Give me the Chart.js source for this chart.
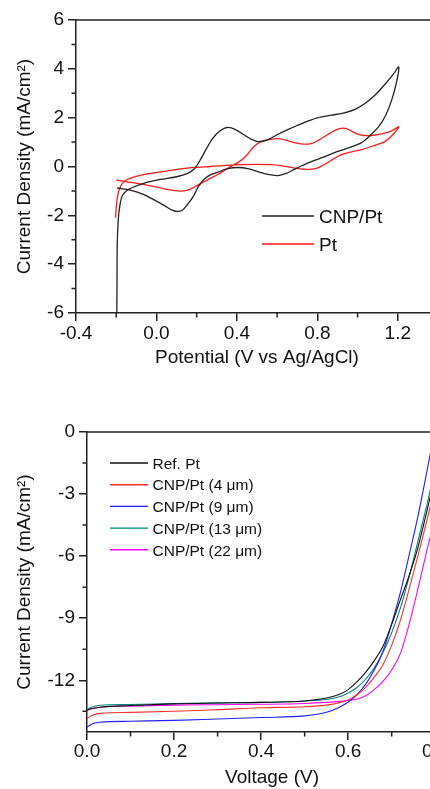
<!DOCTYPE html>
<html>
<head>
<meta charset="utf-8">
<script src="https://cdn.jsdelivr.net/npm/chart.js@4.4.1/dist/chart.umd.min.js"></script>
<style>
  html, body { margin: 0; padding: 0; background: #fff; overflow: hidden; width: 430px; height: 789px; }
  canvas { position: absolute; left: 0; }
  #cv-chart { top: 0; }
  #jv-chart { top: 395px; }
</style>
</head>
<body>
<canvas id="cv-chart" width="450" height="395"></canvas>
<canvas id="jv-chart" width="470" height="394"></canvas>
<script>
// ── Data: cyclic voltammetry (top) ───────────────────────────────────────────
const CV_LABELS = ['CNP/Pt', 'Pt'];

const CNP_V = [-0.197, -0.196, -0.195, -0.190, -0.182, -0.170, -0.150, -0.120, -0.060, 0.020, 0.100, 0.155,
  0.190, 0.220, 0.250, 0.280, 0.315, 0.355, 0.395, 0.435, 0.470, 0.505, 0.550, 0.600, 0.650, 0.700, 0.760,
  0.805, 0.870, 0.935, 0.990, 1.040, 1.090, 1.140, 1.180, 1.205,
  1.195, 1.170, 1.140, 1.105, 1.060, 1.020, 0.950, 0.885, 0.830, 0.770, 0.720, 0.685, 0.645, 0.605, 0.560,
  0.520, 0.460, 0.405, 0.350, 0.300, 0.270, 0.240, 0.210, 0.185, 0.155, 0.130, 0.105, 0.075, 0.040, 0.000,
  -0.065, -0.130, -0.195];
const CNP_J = [-6.0, -4.5, -3.2, -2.2, -1.6, -1.2, -1.0, -0.86, -0.68, -0.53, -0.42, -0.28,
  -0.08, 0.3, 0.75, 1.15, 1.45, 1.6, 1.5, 1.3, 1.12, 1.02, 1.08, 1.3, 1.5, 1.68, 1.88,
  2.0, 2.1, 2.2, 2.35, 2.6, 2.95, 3.4, 3.8, 4.08,
  3.5, 2.73, 2.1, 1.63, 1.25, 0.98, 0.75, 0.57, 0.38, 0.2, 0.02, -0.12, -0.28, -0.37, -0.33,
  -0.25, -0.1, -0.04, -0.1, -0.25, -0.33, -0.5, -0.8, -1.2, -1.55, -1.78, -1.84, -1.78, -1.6, -1.42,
  -1.14, -0.97, -0.88];

const PT_V = [-0.200, -0.165, -0.130, -0.065, 0.020, 0.105, 0.150, 0.185, 0.220, 0.260, 0.305, 0.355,
  0.405, 0.445, 0.485, 0.520, 0.560, 0.605, 0.645, 0.685, 0.730, 0.770, 0.800, 0.835, 0.870, 0.910,
  0.940, 0.970, 1.000, 1.035, 1.080, 1.135, 1.175, 1.205,
  1.175, 1.135, 1.080, 1.020, 0.970, 0.920, 0.875, 0.835, 0.795, 0.755, 0.715, 0.670, 0.620, 0.570,
  0.500, 0.435, 0.350, 0.270, 0.190, 0.105, 0.020, -0.065, -0.110, -0.145, -0.170, -0.185, -0.195,
  -0.200, -0.203];
const PT_J = [-0.55, -0.6, -0.65, -0.73, -0.88, -1.0, -0.98, -0.86, -0.7, -0.52, -0.33, -0.07,
  0.16, 0.42, 0.82, 1.02, 1.1, 1.14, 1.08, 0.98, 0.92, 0.94, 1.05, 1.22, 1.4, 1.55,
  1.56, 1.45, 1.33, 1.27, 1.28, 1.37, 1.48, 1.63,
  1.3, 1.02, 0.85, 0.69, 0.6, 0.49, 0.28, 0.08, -0.08, -0.12, -0.1, -0.04, 0.04, 0.08,
  0.09, 0.08, 0.05, 0.0, -0.04, -0.12, -0.22, -0.33, -0.42, -0.53, -0.7, -0.95, -1.3,
  -1.7, -2.1];

const CV_X_TICKS = [-0.4, 0.0, 0.4, 0.8, 1.2];
const CV_X_MINOR = [-0.2, 0.2, 0.6, 1.0];
const CV_Y_TICKS = [-6, -4, -2, 0, 2, 4, 6];
const CV_Y_MINOR = [-5, -3, -1, 1, 3, 5];

// ── Data: J–V curves (bottom) ────────────────────────────────────────────────
const JV_LABELS = ['Ref. Pt', 'CNP/Pt (4 μm)', 'CNP/Pt (9 μm)', 'CNP/Pt (13 μm)', 'CNP/Pt (22 μm)'];
const VOLTAGE = [0, 0.01, 0.03, 0.1, 0.2, 0.3, 0.4, 0.5, 0.55, 0.58, 0.6, 0.62, 0.64, 0.66, 0.68,
  0.7, 0.72, 0.74, 0.76, 0.78, 0.8, 0.82];
const J_REF = [-13.45, -13.38, -13.3, -13.22, -13.14, -13.1, -13.07, -13.0, -12.86, -12.68, -12.45,
  -12.08, -11.62, -11.05, -10.35, -9.3, -8.1, -6.95, -5.6, -3.9, -2.1, -0.3];
const J_4UM = [-13.84, -13.72, -13.6, -13.55, -13.5, -13.42, -13.33, -13.28, -13.2, -13.08, -12.95,
  -12.7, -12.35, -11.85, -11.25, -10.3, -9.1, -7.6, -6.0, -4.35, -2.6, -0.9];
const J_9UM = [-14.27, -14.12, -14.03, -13.98, -13.94, -13.87, -13.8, -13.72, -13.55, -13.3, -13.05,
  -12.7, -12.2, -11.5, -10.6, -9.25, -7.75, -5.95, -4.1, -2.0, 0.2, 2.2];
const J_13UM = [-13.42, -13.3, -13.21, -13.17, -13.12, -13.09, -13.07, -13.0, -12.93, -12.8, -12.62,
  -12.35, -11.95, -11.4, -10.65, -9.7, -8.5, -7.0, -5.3, -3.6, -1.8, 0.0];
const J_22UM = [-13.45, -13.38, -13.3, -13.25, -13.2, -13.18, -13.16, -13.12, -13.07, -13.02, -12.98,
  -12.92, -12.75, -12.45, -12.05, -11.5, -10.7, -9.3, -7.6, -5.8, -4.1, -2.2];

const JV_X_TICKS = [0.0, 0.2, 0.4, 0.6, 0.8];
const JV_X_MINOR = [0.1, 0.3, 0.5, 0.7];
const JV_Y_TICKS = [0, -3, -6, -9, -12];
const JV_Y_MINOR = [-1.5, -4.5, -7.5, -10.5, -13.5];

// ── Style ────────────────────────────────────────────────────────────────────
const FONT = "'Liberation Sans', Arial, sans-serif";
const INK  = '#111';
const AXIS = '#222';
const CV_COLORS = ['#222222', '#ff1a1a'];
const JV_COLORS = ['#111111', '#ff3030', '#2020ff', '#00877d', '#ff00ff'];

function pts(xs, ys) { return xs.map((x, i) => ({ x, y: ys[i] })); }

function axis(o) {
  return {
    type: 'linear',
    min: o.min, max: o.max,
    afterBuildTicks: s => { s.ticks = o.ticks.map(v => ({ value: v })); },
    afterFit: s => { if (s.isHorizontal()) s.height = o.size; else s.width = o.size; },
    border: { display: true, color: AXIS, width: 1.5 },
    grid: { drawOnChartArea: false, color: AXIS, lineWidth: 1.5, tickLength: 8 },
    ticks: {
      color: INK, font: { family: FONT, size: o.font }, padding: o.pad,
      autoSkip: false, maxRotation: 0, callback: o.fmt,
    },
    title: { display: true, text: o.title, color: INK, font: { family: FONT, size: o.font }, padding: o.titlePad },
  };
}

// ── Frame, minor ticks and legend ────────────────────────────────────────────
const frame = {
  id: 'frame',
  afterDraw(chart, args, opts) {
    const { ctx, chartArea: a, scales: { x, y } } = chart;
    ctx.save();
    ctx.strokeStyle = AXIS;
    ctx.lineWidth = 1.5;
    ctx.beginPath();
    ctx.moveTo(a.left, a.top); ctx.lineTo(a.right, a.top); ctx.lineTo(a.right, a.bottom);
    opts.xMinor.forEach(v => {
      const p = x.getPixelForValue(v);
      ctx.moveTo(p, a.bottom); ctx.lineTo(p, a.bottom + 4.5);
    });
    opts.yMinor.forEach(v => {
      const p = y.getPixelForValue(v);
      ctx.moveTo(a.left, p); ctx.lineTo(a.left - 4.5, p);
    });
    ctx.stroke();

    const L = opts.legend;
    ctx.font = L.size + 'px ' + FONT;
    ctx.textBaseline = 'middle';
    ctx.textAlign = 'left';
    chart.data.datasets.forEach((ds, i) => {
      const yy = L.y + i * L.dy;
      ctx.strokeStyle = ds.borderColor;
      ctx.lineWidth = 1.4;
      ctx.beginPath(); ctx.moveTo(L.x, yy); ctx.lineTo(L.x + L.len, yy); ctx.stroke();
      ctx.fillStyle = INK;
      ctx.fillText(ds.label, L.x + L.len + L.gap, yy + 1.5);
    });
    ctx.restore();
  },
};

const common = {
  responsive: false,
  animation: false,
  events: [],
  plugins: { legend: { display: false }, tooltip: { enabled: false } },
};

// ── Top chart: CV ────────────────────────────────────────────────────────────
new Chart(document.getElementById('cv-chart'), {
  type: 'line',
  data: {
    datasets: [
      { label: CV_LABELS[0], data: pts(CNP_V, CNP_J) },
      { label: CV_LABELS[1], data: pts(PT_V, PT_J) },
    ].map((d, i) => ({ ...d, borderColor: CV_COLORS[i], borderWidth: 1.3, pointRadius: 0, tension: 0.3 })),
  },
  options: {
    ...common,
    layout: { padding: { left: 0, top: 20, right: 12, bottom: 0 } },
    scales: {
      x: axis({ min: -0.4, max: 1.4, ticks: CV_X_TICKS, size: 82, font: 19, pad: 1,
        fmt: v => v.toFixed(1), title: 'Potential (V vs Ag/AgCl)', titlePad: { top: 0, bottom: 25.6 } }),
      y: axis({ min: -6, max: 6, ticks: CV_Y_TICKS, size: 76, font: 19, pad: 4,
        fmt: v => String(v), title: 'Current Density (mA/cm²)', titlePad: { top: 13.6, bottom: 0 } }),
    },
    plugins: {
      ...common.plugins,
      frame: { xMinor: CV_X_MINOR, yMinor: CV_Y_MINOR,
        legend: { x: 262, y: 216, dy: 28, len: 52, gap: 5, size: 19 } },
    },
  },
  plugins: [frame],
});

// ── Bottom chart: J–V ────────────────────────────────────────────────────────
const JV_SERIES = [J_REF, J_4UM, J_9UM, J_13UM, J_22UM];

new Chart(document.getElementById('jv-chart'), {
  type: 'line',
  data: {
    datasets: JV_SERIES.map((j, i) => ({
      label: JV_LABELS[i],
      data: pts(VOLTAGE, j),
      borderColor: JV_COLORS[i],
      borderWidth: 1.1,
      pointRadius: 0,
      cubicInterpolationMode: 'monotone',
    })),
  },
  options: {
    ...common,
    layout: { padding: { left: 0, top: 37, right: 13, bottom: 0 } },
    scales: {
      x: axis({ min: 0, max: 0.85, ticks: JV_X_TICKS, size: 57, font: 19, pad: 0,
        fmt: v => v.toFixed(1), title: 'Voltage (V)', titlePad: { top: 0, bottom: 0 } }),
      y: axis({ min: -14.5, max: 0, ticks: JV_Y_TICKS, size: 87, font: 19, pad: 4,
        fmt: v => String(v), title: 'Current Density (mA/cm²)', titlePad: { top: 13.6, bottom: 0 } }),
    },
    plugins: {
      ...common.plugins,
      frame: { xMinor: JV_X_MINOR, yMinor: JV_Y_MINOR,
        legend: { x: 110, y: 68, dy: 21.7, len: 38, gap: 4.5, size: 15.5 } },
    },
  },
  plugins: [frame],
});
</script>
</body>
</html>
